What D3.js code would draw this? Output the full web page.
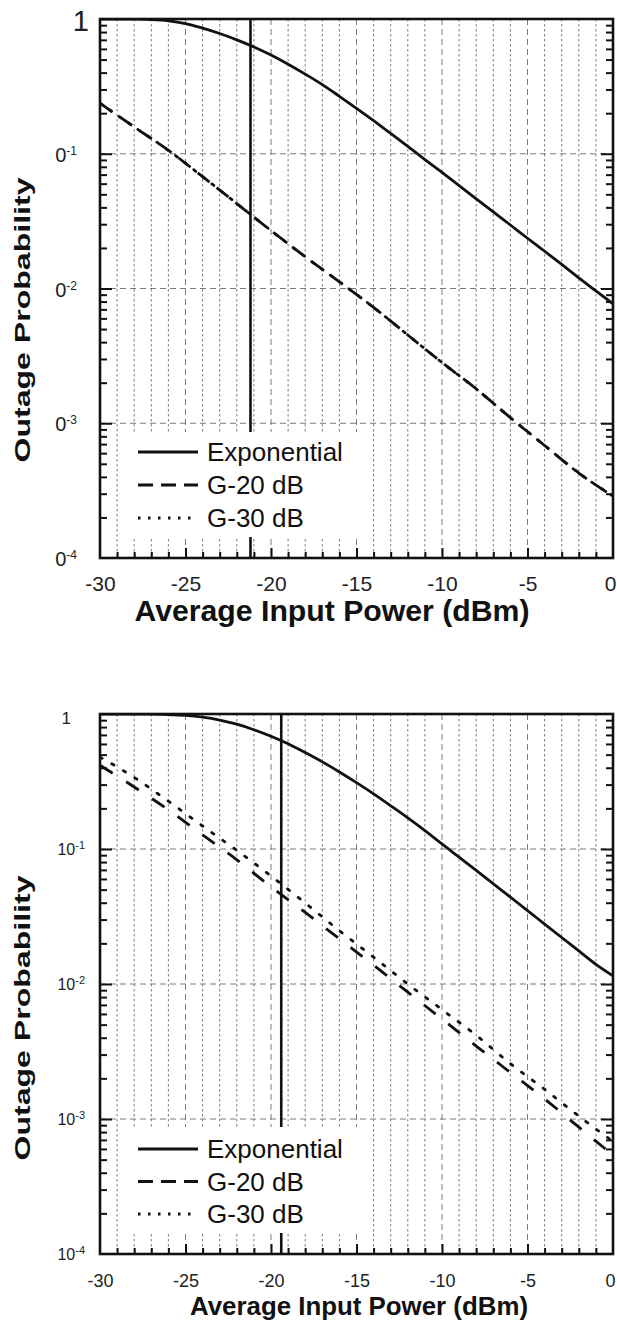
<!DOCTYPE html>
<html>
<head>
<meta charset="utf-8">
<script src="https://cdn.jsdelivr.net/npm/d3@7/dist/d3.min.js"></script>
<style>
  body { margin: 0; background: #fff; }
  svg { display: block; font-family: Arial, "Liberation Sans", sans-serif; }
</style>
</head>
<body>
<svg id="chart" width="617" height="1332"></svg>
<script>
// ---- data ----
var expPower = [-30,-29,-28,-27,-26,-25,-24,-23,-22,-21,-20,-19,-18,-17,-16,-15,
                -14,-13,-12,-11,-10,-9,-8,-7,-6,-5,-4,-3,-2,-1,0];
var gPower = [-30,-28,-26,-24,-22,-20,-18,-16,-14,-12,-10,-8,-6,-4,-2,0];

var topExp = [1.0,0.9995,0.997,0.99,0.97,0.925,0.855,0.78,0.70,0.62,0.54,0.462,0.39,0.326,0.267,0.2175,
              0.176,0.1415,0.1135,0.0905,0.0726,0.058,0.0463,0.037,0.0296,0.0236,0.0189,0.0151,0.012,0.0096,0.0077];
var topG20 = [0.237,0.158,0.106,0.0676,0.0427,0.0269,0.0172,0.0112,0.00724,0.00452,0.00282,0.0018,0.0011,0.000684,0.000427,0.000288];
var topG30 = [0.237,0.158,0.106,0.0676,0.0427,0.0269,0.0172,0.0112,0.00724,0.00452,0.00282,0.0018,0.0011,0.000684,0.000427,0.000288];
var topMarker = -21.2;

var botExp = [1.0,0.9998,0.999,0.997,0.991,0.977,0.948,0.902,0.84,0.765,0.685,0.602,0.518,0.442,0.372,0.31,
              0.256,0.209,0.17,0.137,0.109,0.087,0.0695,0.0553,0.044,0.035,0.0278,0.0221,0.0176,0.014,0.0115];
var botG20 = [0.417,0.288,0.195,0.127,0.0832,0.0525,0.0339,0.0216,0.0138,0.0087,0.0055,0.00347,0.00221,0.00141,0.00087,0.00054];
var botG30 = [0.479,0.339,0.226,0.148,0.0977,0.0631,0.0398,0.0248,0.0158,0.0100,0.00646,0.00417,0.00257,0.00166,0.00105,0.00068];
var botMarker = -19.4;

var xTicks = [-30,-25,-20,-15,-10,-5,0];
var decades = [1, 1e-1, 1e-2, 1e-3, 1e-4];
var topDecadeLabels = [['1',''],['0','-1'],['0','-2'],['0','-3'],['0','-4']];
var botDecadeLabels = [['1',''],['10','-1'],['10','-2'],['10','-3'],['10','-4']];
var legendNames = ['Exponential', 'G-20 dB', 'G-30 dB'];

var svg = d3.select('#chart');

function drawPanel(p) {
  var g = svg.append('g');
  var x = d3.scaleLinear().domain([-30, 0]).range([p.left, p.right]);
  var y = d3.scaleLog().domain([1e-4, 1]).range([p.bottom, p.top]);

  var clipId = 'clip' + p.id;
  svg.append('clipPath').attr('id', clipId).append('rect')
    .attr('x', p.left).attr('y', p.top)
    .attr('width', p.right - p.left).attr('height', p.bottom - p.top);

  // grid: every dB dotted, every 5 dB dashed, decades dashed
  var gridDb = d3.range(-29, 0);
  g.selectAll('.vgrid').data(gridDb).enter().append('line')
    .attr('x1', d => x(d)).attr('x2', d => x(d))
    .attr('y1', p.top).attr('y2', p.bottom)
    .attr('stroke', '#7a7a7a').attr('stroke-width', 1)
    .attr('stroke-dasharray', d => d % 5 === 0 ? '6,4' : '2.5,2.5');
  g.selectAll('.hgrid').data([1e-1, 1e-2, 1e-3]).enter().append('line')
    .attr('x1', p.left).attr('x2', p.right)
    .attr('y1', d => y(d)).attr('y2', d => y(d))
    .attr('stroke', '#7a7a7a').attr('stroke-width', 1)
    .attr('stroke-dasharray', '6,4');

  // threshold marker
  g.append('line')
    .attr('x1', x(p.marker)).attr('x2', x(p.marker))
    .attr('y1', p.top).attr('y2', p.bottom)
    .attr('stroke', '#111').attr('stroke-width', 2.6);

  // legend background hides grid behind it
  g.append('rect')
    .attr('x', p.legend.x).attr('y', p.legend.y)
    .attr('width', p.legend.w).attr('height', p.legend.h)
    .attr('fill', '#fff');

  // curves
  var line = d3.line().x(d => x(d[0])).y(d => y(d[1])).curve(d3.curveMonotoneX);
  var series = [
    {xs: expPower, ys: p.exp, dash: null},
    {xs: gPower, ys: p.g20, dash: p.dash20},
    {xs: gPower, ys: p.g30, dash: p.dash30}
  ];
  g.append('g').attr('clip-path', 'url(#' + clipId + ')')
    .selectAll('path').data(series).enter().append('path')
    .attr('d', s => line(d3.zip(s.xs, s.ys)))
    .attr('fill', 'none').attr('stroke', '#111')
    .attr('stroke-width', 2.8)
    .attr('stroke-linecap', s => s.dash === p.dash30 ? 'round' : 'butt')
    .attr('stroke-dasharray', s => s.dash);

  // inward ticks
  var minorY = [];
  [-4, -3, -2, -1].forEach(function(k) {
    d3.range(2, 10).forEach(function(m) { minorY.push(m * Math.pow(10, k)); });
  });
  function tickAxis(axis) {
    var a = g.append('g').call(axis);
    a.select('.domain').remove();
    a.selectAll('line').attr('stroke', '#111').attr('stroke-width', 2);
    return a;
  }
  tickAxis(d3.axisLeft(y).tickValues(minorY).tickSize(-7).tickFormat(''))
    .attr('transform', 'translate(' + p.left + ',0)');
  tickAxis(d3.axisLeft(y).tickValues([1e-1, 1e-2, 1e-3]).tickSize(-12).tickFormat(''))
    .attr('transform', 'translate(' + p.left + ',0)');
  tickAxis(d3.axisRight(y).tickValues(minorY).tickSize(-7).tickFormat(''))
    .attr('transform', 'translate(' + p.right + ',0)');
  tickAxis(d3.axisRight(y).tickValues([1e-1, 1e-2, 1e-3]).tickSize(-12).tickFormat(''))
    .attr('transform', 'translate(' + p.right + ',0)');
  tickAxis(d3.axisBottom(x).tickValues(gridDb.filter(d => d % 5 !== 0)).tickSize(-6).tickFormat(''))
    .attr('transform', 'translate(0,' + p.bottom + ')');
  tickAxis(d3.axisBottom(x).tickValues(gridDb.filter(d => d % 5 === 0)).tickSize(-10).tickFormat(''))
    .attr('transform', 'translate(0,' + p.bottom + ')');

  // frame
  g.append('rect')
    .attr('x', p.left).attr('y', p.top)
    .attr('width', p.right - p.left).attr('height', p.bottom - p.top)
    .attr('fill', 'none').attr('stroke', '#111').attr('stroke-width', 2.6);

  // x tick labels (plain hyphen, last one nudged inside the page)
  var xa = g.append('g').attr('transform', 'translate(0,' + p.bottom + ')')
    .call(d3.axisBottom(x).tickValues(xTicks).tickSize(0).tickPadding(p.xTickPad)
      .tickFormat(d => String(d)));
  xa.select('.domain').remove();
  xa.selectAll('text').attr('font-size', p.xTickFont).attr('fill', '#222')
    .attr('font-family', 'Arial, "Liberation Sans", sans-serif')
    .attr('dx', d => d === 0 ? -3 : 0);

  // y tick labels with superscripts
  var yl = g.selectAll('.ylab').data(decades).enter().append('text')
    .attr('x', (d, i) => i === 0 ? p.oneX : p.labX)
    .attr('y', (d, i) => y(d) + (i === 0 ? p.oneDy : p.labDy))
    .attr('text-anchor', 'end').attr('fill', '#222');
  yl.append('tspan')
    .attr('font-size', (d, i) => i === 0 ? p.oneFont : p.labFont)
    .text((d, i) => p.decadeLabels[i][0]);
  yl.append('tspan')
    .attr('font-size', p.supFont).attr('dy', -p.supRise)
    .text((d, i) => p.decadeLabels[i][1]);

  // axis titles
  g.append('text')
    .attr('x', p.xTitle.x).attr('y', p.xTitle.y)
    .attr('text-anchor', 'middle').attr('font-weight', 'bold')
    .attr('font-size', p.xTitle.size).attr('fill', '#111')
    .attr('textLength', p.xTitle.len).attr('lengthAdjust', 'spacingAndGlyphs')
    .text('Average Input Power (dBm)');
  g.append('text')
    .attr('transform', 'translate(' + p.yTitle.x + ',' + p.yTitle.y + ') rotate(-90)')
    .attr('text-anchor', 'middle').attr('font-weight', 'bold')
    .attr('font-size', p.yTitle.size).attr('fill', '#111')
    .attr('textLength', p.yTitle.len).attr('lengthAdjust', 'spacingAndGlyphs')
    .text('Outage Probability');

  // legend entries
  var lg = g.append('g');
  var dashes = [null, '15,8', '2.5,7.5'];
  legendNames.forEach(function(name, i) {
    var ly = p.legend.y + p.legend.row0 + i * p.legend.step;
    lg.append('line')
      .attr('x1', p.legend.x + 18).attr('x2', p.legend.x + 78)
      .attr('y1', ly).attr('y2', ly)
      .attr('stroke', '#111').attr('stroke-width', 2.8)
      .attr('stroke-dasharray', dashes[i]);
    lg.append('text')
      .attr('x', p.legend.x + 87).attr('y', ly + 9)
      .attr('font-size', 26).attr('fill', '#111')
      .text(name);
  });
}

drawPanel({
  id: 'top', left: 100, right: 613, top: 19, bottom: 558,
  exp: topExp, g20: topG20, g30: topG30, marker: topMarker,
  dash20: '15,9', dash30: '2.5,9',
  legend: {x: 120, y: 432, w: 250, h: 105, row0: 20, step: 33},
  xTickFont: 21, xTickPad: 18,
  decadeLabels: topDecadeLabels,
  oneX: 89, oneDy: 12, oneFont: 29,
  labX: 77, labDy: 8, labFont: 20, supFont: 12, supRise: 7,
  xTitle: {x: 332, y: 621, size: 29, len: 395},
  yTitle: {x: 30, y: 320, size: 22, len: 285}
});

drawPanel({
  id: 'bot', left: 100, right: 613, top: 714, bottom: 1254,
  exp: botExp, g20: botG20, g30: botG30, marker: botMarker,
  dash20: '15,16', dash30: '2.5,11',
  legend: {x: 120, y: 1127, w: 250, h: 106, row0: 22, step: 32.5},
  xTickFont: 18, xTickPad: 20,
  decadeLabels: botDecadeLabels,
  oneX: 71, oneDy: 10, oneFont: 17,
  labX: 85, labDy: 6, labFont: 16, supFont: 11, supRise: 6,
  xTitle: {x: 359, y: 1315, size: 25, len: 338},
  yTitle: {x: 30, y: 1018, size: 22, len: 285}
});
</script>
</body>
</html>
